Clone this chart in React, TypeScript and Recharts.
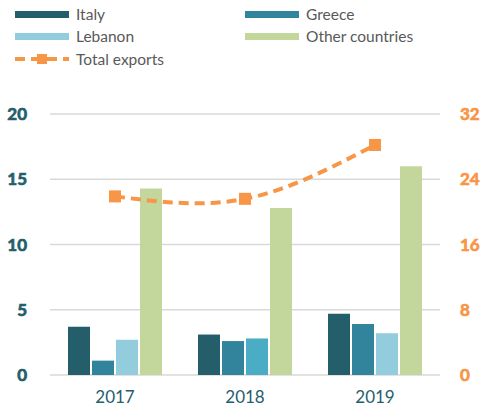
import { Bar, CartesianGrid, Cell, ComposedChart, Line, XAxis, YAxis } from 'recharts'

const years = ['2017', '2018', '2019']
const italy = [3.7, 3.1, 4.7]
const greece = [1.1, 2.6, 3.9]
const lebanon = [2.7, 2.8, 3.2]
const otherCountries = [14.3, 12.8, 16.0]
const totalExports = [21.9, 21.6, 28.2]
const leftTicks = [0, 5, 10, 15, 20]
const rightTicks = [0, 8, 16, 24, 32]

const data = years.map((year, i) => ({
  year,
  italy: italy[i],
  greece: greece[i],
  lebanon: lebanon[i],
  other: otherCountries[i],
  total: totalExports[i],
}))

const FONT = 'Lato, "Open Sans", sans-serif'
const TEAL_DARK = '#255E6B'
const ORANGE = '#F79646'

const legendItems = [
  { label: 'Italy', color: '#255E6B', x: 15, y: 6 },
  { label: 'Greece', color: '#31849B', x: 245, y: 6 },
  { label: 'Lebanon', color: '#93CDDD', x: 15, y: 28 },
  { label: 'Other countries', color: '#C3D69B', x: 245, y: 28 },
]

function SquareDot(props: any) {
  const { cx, cy } = props
  if (cx == null || cy == null) return null
  return <rect x={cx - 6} y={cy - 6} width={12} height={12} fill={ORANGE} />
}

function LeftTick(props: any) {
  const { x, y, payload } = props
  return (
    <text x={x} y={y} dy={6} textAnchor="end" fill={TEAL_DARK} stroke={TEAL_DARK} strokeWidth={0.7}
      style={{ fontSize: 17, fontWeight: 700, fontFamily: FONT }}>
      {payload.value}
    </text>
  )
}

function RightTick(props: any) {
  const { x, y, payload } = props
  return (
    <text x={x} y={y} dy={6} textAnchor="start" fill={ORANGE} stroke={ORANGE} strokeWidth={0.7}
      style={{ fontSize: 17, fontWeight: 700, fontFamily: FONT }}>
      {payload.value}
    </text>
  )
}

function TopLegend() {
  return (
    <div style={{ position: 'absolute', left: 0, top: 0, width: 488, height: 80, fontFamily: FONT, fontSize: 15.5, color: '#595959' }}>
      {legendItems.map((item) => (
        <div key={item.label} style={{ position: 'absolute', left: item.x, top: item.y, height: 16, display: 'flex', alignItems: 'center' }}>
          <span style={{ display: 'inline-block', width: 54, height: 7, background: item.color, marginRight: 7 }} />
          <span>{item.label}</span>
        </div>
      ))}
      <div style={{ position: 'absolute', left: 15, top: 51, height: 16, display: 'flex', alignItems: 'center' }}>
        <svg width={54} height={14} style={{ marginRight: 7 }}>
          <line x1={0} y1={7} x2={54} y2={7} stroke={ORANGE} strokeWidth={4} strokeDasharray="10 6" />
          <rect x={22} y={2} width={10} height={10} fill={ORANGE} />
        </svg>
        <span>Total exports</span>
      </div>
    </div>
  )
}

export default function App() {
  return (
    <div style={{ position: 'absolute', left: 0, top: 0, width: 488, height: 414, background: '#fff' }}>
      <ComposedChart
        width={488}
        height={414}
        data={data}
        margin={{ top: 114, right: 0, bottom: 9, left: 0 }}
        barSize={22}
        barGap={2}
      >
        <CartesianGrid yAxisId="left" vertical={false} stroke="#D9D9D9" strokeWidth={1.5} />
        <XAxis
          dataKey="year"
          tickLine={false}
          axisLine={false}
          tickMargin={10}
          height={30}
          tick={{ fill: TEAL_DARK, fontSize: 17, fontFamily: FONT }}
        />
        <YAxis
          yAxisId="left"
          domain={[0, 20]}
          ticks={leftTicks}
          width={50}
          tickLine={false}
          axisLine={false}
          tickMargin={17}
          tick={LeftTick}
        />
        <YAxis
          yAxisId="right"
          orientation="right"
          domain={[0, 32]}
          ticks={rightTicks}
          width={48}
          tickLine={false}
          axisLine={false}
          tickMargin={14}
          tick={RightTick}
        />
        <Bar yAxisId="left" dataKey="italy" fill="#255E6B" isAnimationActive={false} />
        <Bar yAxisId="left" dataKey="greece" fill="#31849B" isAnimationActive={false} />
        <Bar yAxisId="left" dataKey="lebanon" fill="#93CDDD" isAnimationActive={false}>
          {data.map((d) => (
            <Cell key={d.year} fill={d.year === '2018' ? '#4BACC6' : '#93CDDD'} />
          ))}
        </Bar>
        <Bar yAxisId="left" dataKey="other" fill="#C3D69B" isAnimationActive={false} />
        <Line
          yAxisId="right"
          dataKey="total"
          type="natural"
          stroke={ORANGE}
          strokeWidth={4}
          strokeDasharray="10 6"
          dot={<SquareDot />}
          activeDot={false}
          isAnimationActive={false}
        />
      </ComposedChart>
      <TopLegend />
    </div>
  )
}
